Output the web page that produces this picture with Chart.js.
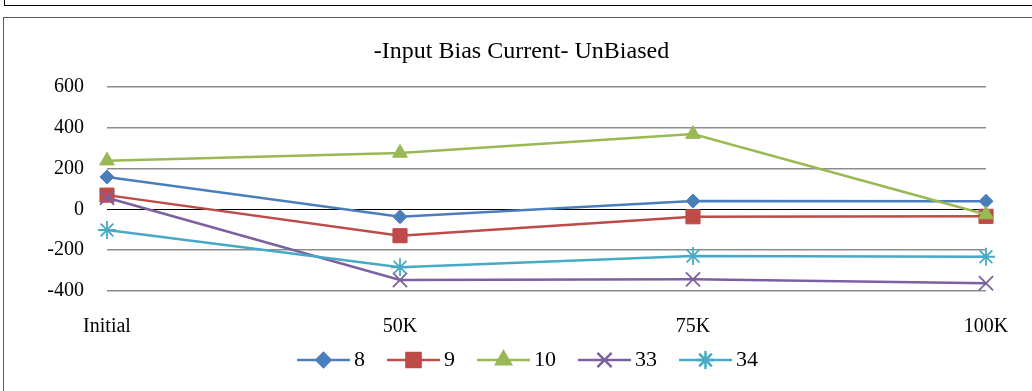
<!DOCTYPE html>
<html lang="en">
<head>
<meta charset="UTF-8">
<title>Input Bias Current</title>
<script src="https://cdn.jsdelivr.net/npm/chart.js@4.4.1/dist/chart.umd.min.js"></script>
<style>
  body { margin: 0; background: #fff; width: 1032px; height: 391px; overflow: hidden; position: relative; }
  #topbox { position: absolute; left: 4px; top: -20px; width: 1100px; height: 24px; border: 1.3px solid #000; }
  #chartbox { position: absolute; left: 3px; top: 17px; width: 1100px; height: 420px; border: 1px solid #5a5a5a; background: #fff; }
  #myChart { position: absolute; left: 0; top: 0; }
</style>
</head>
<body>
<div id="topbox"></div>
<div id="chartbox"></div>
<canvas id="myChart" width="1032" height="391"></canvas>
<script>

var categories = ["Initial", "50K", "75K", "100K"]
var seriesNames = ["8", "9", "10", "33", "34"]
var s8 = [159, -36, 41, 40]
var s9 = [70, -129, -36, -34]
var s10 = [239, 277, 369, -25]
var s33 = [57, -346, -343, -362]
var s34 = [-101, -284, -228, -232]

var colors = ["#4a7ebb", "#be4b48", "#98b954", "#7d60a0", "#46aac5"]
var styles = ["rectRot", "rect", "triangle", "crossRot", "star"]
var radii = [7, 10, 8.5, 10, 9]

var font = "'Liberation Serif', 'Times New Roman', serif"

// little line + marker pictures for the legend
function legendImage(i){
  var c = document.createElement("canvas")
  c.width = 72
  c.height = 22
  var g = c.getContext("2d")
  g.strokeStyle = colors[i]
  g.fillStyle = colors[i]
  g.lineWidth = 2.5
  g.beginPath()
  g.moveTo(19, 11)
  g.lineTo(72, 11)
  g.stroke()
  Chart.helpers.drawPoint(g, {pointStyle: styles[i], radius: radii[i], rotation: 0, borderWidth: (i >= 3 ? 1.8 : 1)}, 45.5, 11)
  return c
}

var allData = [s8, s9, s10, s33, s34]
var datasets = allData.map((d, i) => {
  return {
    label: seriesNames[i],
    data: d,
    order: allData.length - i, // later series on top, like the original
    borderColor: colors[i],
    backgroundColor: colors[i],
    borderWidth: 2.5,
    pointStyle: styles[i],
    pointRadius: radii[i],
    pointBorderWidth: (i >= 3 ? 1.8 : 1),
    pointBackgroundColor: colors[i],
    pointBorderColor: colors[i],
    tension: 0
  }
})

var images = seriesNames.map((n, i) => legendImage(i))

var ctx = document.getElementById('myChart').getContext('2d')
var myChart = new Chart(ctx, {
  type: 'line',
  data: {
    labels: categories,
    datasets: datasets
  },
  options: {
    responsive: false,
    animation: false,
    devicePixelRatio: 1,
    layout: { padding: { left: 40, right: 29, top: 17, bottom: 10 } },
    scales: {
      x: {
        offset: false,
        grid: { display: false, drawTicks: false },
        border: { display: false },
        ticks: { color: '#000', font: { family: font, size: 20 }, padding: 24, maxRotation: 0, autoSkip: false },
        // push the right edge of the plot in to 986 while title and legend keep the wider box
        afterFit: (s) => { s.height = 48; s.paddingLeft = 0; s.paddingRight = 46 }
      },
      y: {
        min: -400,
        max: 600,
        grid: {
          drawTicks: false,
          color: (c) => c.tick && c.tick.value === 0 ? '#000000' : '#8c8c8c',
          lineWidth: (c) => c.tick && c.tick.value === 0 ? 1 : 1.6
        },
        border: { display: false },
        ticks: { stepSize: 200, color: '#000', font: { family: font, size: 20 }, padding: 23 },
        afterFit: (s) => { s.width = 67; s.paddingTop = 0; s.paddingBottom = 0 }
      }
    },
    plugins: {
      title: {
        display: true,
        text: '-Input Bias Current- UnBiased',
        color: '#000',
        font: { family: font, size: 24, weight: 'normal' },
        padding: { top: 20.6, bottom: 20.6 }
      },
      legend: {
        position: 'bottom',
        labels: {
          color: '#000',
          font: { family: font, size: 22 },
          usePointStyle: true,
          pointStyleWidth: 58,
          padding: 10,
          generateLabels: (chart) => {
            var items = Chart.defaults.plugins.legend.labels.generateLabels(chart)
            items.sort((a, b) => a.datasetIndex - b.datasetIndex)
            items.forEach((it) => { it.pointStyle = images[it.datasetIndex] })
            return items
          }
        }
      },
      tooltip: { enabled: false }
    }
  }
})

</script>
</body>
</html>
